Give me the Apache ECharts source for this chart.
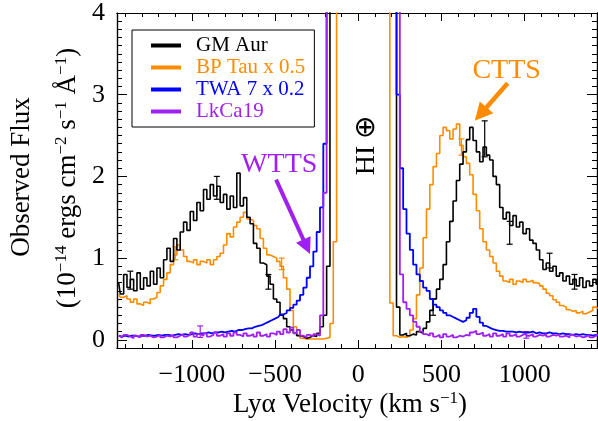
<!DOCTYPE html>
<html><head><meta charset="utf-8">
<script src="https://cdn.jsdelivr.net/npm/echarts@6/dist/echarts.min.js"></script>
<style>html,body{margin:0;padding:0;background:#fff}#c{width:598px;height:421px}</style>
</head><body><div id="c"></div>
<script>
// ---- data ----
const velocity = [
-1440,-1420,-1400,-1380,-1360,-1340,-1320,-1300,-1280,-1260,
-1240,-1220,-1200,-1180,-1160,-1140,-1120,-1100,-1080,-1060,
-1040,-1020,-1000,-980,-960,-940,-920,-900,-880,-860,
-840,-820,-800,-780,-760,-740,-720,-700,-680,-660,
-640,-620,-600,-580,-560,-540,-520,-500,-480,-460,
-440,-420,-400,-380,-360,-340,-320,-300,-280,-260,
-240,-220,-200,-180,-160,-140,-120,-100,-80,-60,
-40,-20,0,20,40,60,80,100,120,140,
160,180,200,220,240,260,280,300,320,340,
360,380,400,420,440,460,480,500,520,540,
560,580,600,620,640,660,680,700,720,740,
760,780,800,820,840,860,880,900,920,940,
960,980,1000,1020,1040,1060,1080,1100,1120,1140,
1160,1180,1200,1220,1240,1260,1280,1300,1320,1340,
1360,1380,1400,1420,1440];

const gmAur = [
0.70,0.56,0.80,0.64,0.74,0.60,0.82,0.62,0.76,0.66,
0.84,0.68,0.88,0.76,0.98,1.12,0.96,1.24,1.10,1.32,
1.44,1.34,1.57,1.46,1.68,1.58,1.84,1.72,1.90,1.76,
1.88,1.68,1.78,1.60,1.76,1.62,2.04,1.64,1.74,1.50,
1.42,1.18,1.12,0.94,0.92,0.78,0.68,0.50,0.46,0.30,
0.26,0.16,0.12,0.08,0.05,0.04,0.02,0.03,0.05,0.04,
0.08,0.16,0.30,0.90,5,null,null,null,null,null,
null,null,null,null,null,null,null,null,null,null,
null,null,null,5,0.40,0.06,0.08,0.05,0.07,0.06,
0.10,0.08,0.14,0.22,0.36,0.50,0.62,0.74,0.92,1.20,
1.45,1.70,1.95,2.15,2.30,2.45,2.60,2.44,2.30,2.18,
2.36,2.26,2.20,2.00,1.90,1.62,1.48,1.56,1.40,1.52,
1.38,1.44,1.30,1.36,1.22,1.18,1.10,0.98,0.86,0.94,
0.84,0.90,0.78,0.82,0.72,0.78,0.68,0.74,0.66,0.76,
0.64,0.72,0.66,0.74,0.68];

const bpTau = [
0.56,0.52,0.54,0.50,0.46,0.50,0.44,0.42,0.46,0.44,
0.50,0.52,0.58,0.66,0.74,0.82,0.92,1.04,1.16,1.10,
1.02,0.96,0.94,0.98,0.92,0.96,0.94,0.98,0.92,0.98,
1.02,1.06,1.16,1.30,1.26,1.38,1.44,1.50,1.56,1.48,
1.46,1.40,1.36,1.24,1.12,1.04,1.02,1.00,0.96,0.90,
0.76,0.62,0.36,0.16,0.06,0.02,0.01,0.01,0.01,0.01,
0.01,0.01,0.02,0.03,0.20,1.20,5,null,null,null,
null,null,null,null,null,null,null,null,null,null,
null,5,0.45,0.05,0.03,0.04,0.03,0.05,0.12,0.26,
0.55,0.88,1.25,1.60,1.90,2.12,2.28,2.50,2.60,2.56,
2.46,2.58,2.64,2.38,2.24,2.16,2.02,1.78,1.58,1.36,
1.20,1.10,1.02,0.94,0.84,0.78,0.72,0.70,0.74,0.68,
0.72,0.70,0.74,0.71,0.73,0.70,0.69,0.66,0.62,0.57,
0.54,0.49,0.46,0.42,0.40,0.37,0.35,0.36,0.33,0.35,
0.32,0.34,0.36,0.40,0.38];

const twa7 = [
0.05,0.04,0.05,0.04,0.05,0.05,0.04,0.05,0.05,0.06,
0.05,0.05,0.06,0.05,0.06,0.06,0.05,0.06,0.07,0.06,
0.07,0.06,0.07,0.08,0.07,0.08,0.08,0.09,0.08,0.09,
0.09,0.10,0.09,0.10,0.11,0.10,0.12,0.12,0.13,0.14,
0.14,0.16,0.17,0.18,0.20,0.22,0.24,0.26,0.28,0.31,
0.33,0.36,0.39,0.43,0.48,0.55,0.64,0.76,0.90,1.08,
1.32,1.62,2.40,5,null,null,null,null,null,null,
null,null,null,null,null,null,null,null,null,null,
null,null,null,5,3.00,2.10,1.60,1.30,1.10,0.92,
0.80,0.72,0.64,0.60,0.50,0.43,0.40,0.36,0.33,0.30,
0.28,0.26,0.24,0.22,0.24,0.27,0.33,0.38,0.28,0.21,
0.17,0.15,0.13,0.12,0.11,0.11,0.10,0.10,0.10,0.09,
0.10,0.09,0.09,0.09,0.10,0.08,0.09,0.08,0.08,0.09,
0.08,0.08,0.07,0.08,0.07,0.07,0.06,0.07,0.06,0.07,
0.06,0.06,0.05,0.06,0.06];

const lkCa19 = [
0.05,0.03,0.06,0.04,0.02,0.05,0.03,0.06,0.04,0.05,
0.03,0.04,0.06,0.03,0.05,0.04,0.06,0.03,0.05,0.07,
0.04,0.06,0.09,0.04,0.07,0.05,0.08,0.04,0.06,0.09,
0.05,0.07,0.04,0.08,0.05,0.09,0.06,0.04,0.08,0.05,
0.07,0.04,0.09,0.05,0.07,0.04,0.08,0.06,0.10,0.07,
0.13,0.09,0.15,0.08,0.12,0.05,0.03,0.06,0.04,0.07,
0.05,0.30,1.80,5,null,null,null,null,null,null,
null,null,null,null,null,null,null,null,null,null,
null,null,null,null,5,0.80,0.46,0.38,0.30,0.22,
0.16,0.10,0.07,0.05,0.08,0.04,0.06,0.03,0.07,0.04,
0.06,0.03,0.05,0.04,0.06,0.05,0.09,0.11,0.07,0.09,
0.05,0.07,0.04,0.08,0.05,0.07,0.04,0.08,0.05,0.07,
0.04,0.06,0.08,0.05,0.07,0.04,0.06,0.05,0.07,0.04,
0.06,0.05,0.07,0.04,0.05,0.03,0.06,0.04,0.05,0.03,
0.04,0.06,0.03,0.05,0.07];

// sparse error bars: velocity, low, high
const gmAurErrV  = [-1370,-850,-540,450,760,910,1150,1300];
const gmAurErrLo = [0.62,1.72,0.62,0.30,2.24,1.17,0.88,0.62];
const gmAurErrHi = [0.84,2.00,0.80,0.50,2.68,1.45,1.06,0.80];
const bpTauErrV  = [-460,-1100,620];
const bpTauErrLo = [0.86,0.98,2.26];
const bpTauErrHi = [1.00,1.14,2.46];
const lkCa19ErrV  = [-950,1010];
const lkCa19ErrLo = [0.03,0.02];
const lkCa19ErrHi = [0.17,0.10];

const seriesNames = ['GM Aur','BP Tau x 0.5','TWA 7 x 0.2','LkCa19'];
const xMajorTicks = [-1000,-500,0,500,1000];
const xTickLabels = ['\u22121000','\u2212500','0','500','1000'];
const xMinorTicks = [-1400,-1300,-1200,-1100,-900,-800,-700,-600,-400,-300,-200,-100,
                     100,200,300,400,600,700,800,900,1100,1200,1300,1400];
const yMajorTicks = [0,1,2,3,4];
const yTickLabels = ['0','1','2','3','4'];
const yMinorTicks = [0.1,0.2,0.3,0.4,0.5,0.6,0.7,0.8,0.9,1.1,1.2,1.3,1.4,1.5,1.6,1.7,1.8,1.9,
                     2.1,2.2,2.3,2.4,2.5,2.6,2.7,2.8,2.9,3.1,3.2,3.3,3.4,3.5,3.6,3.7,3.8,3.9];

// ---- styling / layout ----
const FONT = "'Liberation Serif','Times New Roman',serif";
const C = {black:'#000000', orange:'#ff8c00', blue:'#0000ff', purple:'#a020f0'};
const X_MIN = -1450, X_MAX = 1435, Y_MIN = -0.1, Y_MAX = 4;

function pairs(arr){ return velocity.map((v,i)=> arr[i]===null ? [v,'-'] : [v, arr[i]]); }

function mkX(pos, ticks, len, labels){
  return {type:'value', min:X_MIN, max:X_MAX, position:pos,
    axisLine:{show:true, onZero:false, lineStyle:{color:'#000', width:1.2}},
    axisTick:{show:true, inside:true, length:len, customValues:ticks, lineStyle:{color:'#000', width:1}},
    axisLabel:{show:labels, customValues:ticks, margin:14, color:'#000', fontFamily:FONT, fontSize:26,
      formatter:(v)=>{const k=xMajorTicks.indexOf(Math.round(v)); return k>=0?xTickLabels[k]:'';}},
    splitLine:{show:false}, minorTick:{show:false}};
}
function mkY(pos, ticks, len, labels){
  return {type:'value', min:Y_MIN, max:Y_MAX, position:pos,
    axisLine:{show:true, onZero:false, lineStyle:{color:'#000', width:1.2}},
    axisTick:{show:true, inside:true, length:len, customValues:ticks, lineStyle:{color:'#000', width:1}},
    axisLabel:{show:labels, customValues:ticks, margin:12, color:'#000', fontFamily:FONT, fontSize:26,
      formatter:(v)=>{const k=yMajorTicks.indexOf(Math.round(v)); return k>=0?yTickLabels[k]:'';}},
    splitLine:{show:false}, minorTick:{show:false}};
}
function line(name, arr, color, width){
  return {name, type:'line', data:pairs(arr), step:'middle', symbol:'none', showSymbol:false,
    connectNulls:false, clip:true, xAxisIndex:0, yAxisIndex:0,
    lineStyle:{color, width}, itemStyle:{color}, emphasis:{disabled:true}};
}
function errBars(vs, lo, hi, color){
  return {type:'custom', xAxisIndex:0, yAxisIndex:0, silent:true, clip:true,
    data: vs.map((v,i)=>[v, lo[i], hi[i]]),
    renderItem:(params, api)=>{
      const a = api.coord([api.value(0), api.value(1)]);
      const b = api.coord([api.value(0), api.value(2)]);
      const st = {stroke:color, lineWidth:1.2};
      return {type:'group', children:[
        {type:'line', shape:{x1:a[0],y1:a[1],x2:b[0],y2:b[1]}, style:st},
        {type:'line', shape:{x1:a[0]-3,y1:a[1],x2:a[0]+3,y2:a[1]}, style:st},
        {type:'line', shape:{x1:b[0]-3,y1:b[1],x2:b[0]+3,y2:b[1]}, style:st}]};
    }};
}

const chart = echarts.init(document.getElementById('c'));
chart.setOption({
  animation:false,
  grid:{left:117, right:1, top:9, bottom:73},
  legend:{orient:'vertical', left:132, top:30, padding:[5,9,5,19], itemGap:1,
    itemWidth:30, itemHeight:4, icon:'rect', borderColor:'#000', borderWidth:1, selectedMode:false,
    textStyle:{fontFamily:FONT, fontSize:21, lineHeight:21, padding:[0,0,0,10]},
    data:[
      {name:seriesNames[0], textStyle:{color:C.black}},
      {name:seriesNames[1], textStyle:{color:C.orange}},
      {name:seriesNames[2], textStyle:{color:C.blue}},
      {name:seriesNames[3], textStyle:{color:C.purple}}]},
  xAxis:[mkX('bottom',xMajorTicks,8,true), mkX('bottom',xMinorTicks,4,false),
         mkX('top',xMajorTicks,8,false), mkX('top',xMinorTicks,4,false)],
  yAxis:[mkY('left',yMajorTicks,10,true), mkY('left',yMinorTicks,5,false),
         mkY('right',yMajorTicks,10,false), mkY('right',yMinorTicks,5,false)],
  series:[
    line(seriesNames[1], bpTau, C.orange, 1.6),
    errBars(bpTauErrV, bpTauErrLo, bpTauErrHi, C.orange),
    line(seriesNames[0], gmAur, C.black, 1.6),
    errBars(gmAurErrV, gmAurErrLo, gmAurErrHi, C.black),
    line(seriesNames[2], twa7, C.blue, 1.8),
    line(seriesNames[3], lkCa19, C.purple, 1.8),
    errBars(lkCa19ErrV, lkCa19ErrLo, lkCa19ErrHi, C.purple)
  ]
});

// ---- annotations (positions given in data coordinates) ----
const annot = {
  wtts:{text:[-475,2.14], from:[-494,1.96], to:[-290,1.05], color:C.purple},
  ctts:{text:[892,3.30], from:[898,3.14], to:[700,2.68], color:C.orange},
  hi:[52,2.38]
};
const px = (p)=>chart.convertToPixel({xAxisIndex:0,yAxisIndex:0}, p);
function arrow(a, lw, hl, hw){
  const s = px(a.from), t = px(a.to);
  const dx=t[0]-s[0], dy=t[1]-s[1], L=Math.hypot(dx,dy), ux=dx/L, uy=dy/L;
  const bx=t[0]-ux*hl, by=t[1]-uy*hl;
  return [
    {type:'line', shape:{x1:s[0],y1:s[1],x2:bx+ux*2,y2:by+uy*2}, style:{stroke:a.color, lineWidth:lw}, silent:true},
    {type:'polygon', shape:{points:[[t[0],t[1]],[bx-uy*hw,by+ux*hw],[bx+uy*hw,by-ux*hw]]}, style:{fill:a.color}, silent:true}
  ];
}
const supRich = {
  a:{fontFamily:FONT, fontSize:27, lineHeight:30, verticalAlign:'middle', fill:'#000'},
  s:{fontFamily:FONT, fontSize:17, lineHeight:14, verticalAlign:'top', fill:'#000'}
};
const wP = px(annot.wtts.text), cP = px(annot.ctts.text), hP = px(annot.hi);
chart.setOption({graphic:[
  ...arrow(annot.wtts, 4, 16, 8),
  ...arrow(annot.ctts, 4.5, 18, 9),
  {type:'text', x:wP[0], y:wP[1], silent:true, style:{text:'WTTS', fill:C.purple, font:"28px 'Liberation Serif', serif", align:'center', verticalAlign:'middle'}},
  {type:'text', x:cP[0], y:cP[1], silent:true, style:{text:'CTTS', fill:C.orange, font:"28px 'Liberation Serif', serif", align:'center', verticalAlign:'middle'}},
  {type:'text', x:hP[0], y:hP[1], rotation:Math.PI/2, silent:true, style:{text:'HI \u2295', fill:'#000', font:"28px 'Liberation Serif', serif", align:'center', verticalAlign:'middle'}},
  {type:'text', x:350, y:405, silent:true, style:{text:'{a|Ly\u03b1 Velocity (km s}{s|\u22121}{a|)}', rich:supRich, align:'center', verticalAlign:'middle'}},
  {type:'text', x:22, y:177, rotation:Math.PI/2, silent:true, style:{text:'{a|Observed Flux}', rich:supRich, align:'center', verticalAlign:'middle'}},
  {type:'text', x:68, y:178, rotation:Math.PI/2, silent:true, style:{text:'{a|(10}{s|\u221214}{a| ergs cm}{s|\u22122}{a| s}{s|\u22121}{a| \u00c5}{s|\u22121}{a|)}', rich:supRich, align:'center', verticalAlign:'middle'}}
]});
</script>
</body></html>
